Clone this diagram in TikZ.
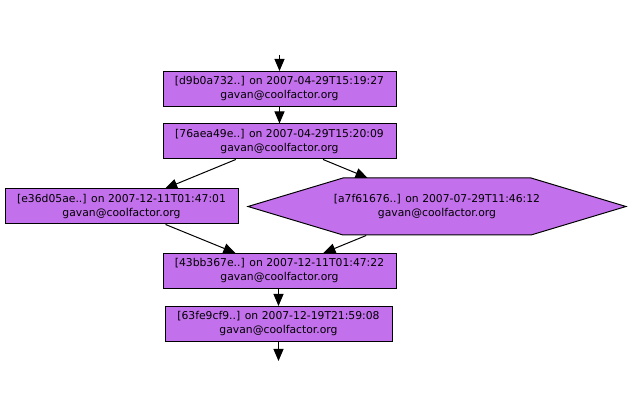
\documentclass[tikz,border=0pt]{standalone}
\usepackage{fontspec}
\setmainfont{DejaVu Sans}
\usetikzlibrary{arrows.meta,shapes.symbols}
\definecolor{commit}{RGB}{195,112,236}
\tikzset{
  box/.style={draw=black, line width=1pt, fill=commit, rectangle, minimum width=233pt, minimum height=35pt, inner sep=0pt, align=center, font=\fontsize{10.8}{14}\selectfont},
  hexa/.style={draw=black, line width=1pt, fill=commit, signal, signal to=east and west, signal pointer angle=33.4, minimum width=378pt, minimum height=57pt, inner sep=0pt, font=\fontsize{10.8}{14}\selectfont},
  edge/.style={draw=black, line width=1pt, -{Triangle[length=12pt,width=10pt]}}
}
\begin{document}
\begin{tikzpicture}[x=1pt,y=-1pt]
\useasboundingbox (0,0) rectangle (630,414);
\node[box] (n1) at (279.5,89) {[d9b0a732..] on 2007-04-29T15:19:27\\gavan@coolfactor.org};
\node[box] (n2) at (279.5,141.5) {[76aea49e..] on 2007-04-29T15:20:09\\gavan@coolfactor.org};
\node[box] (n3) at (121.5,206.5) {[e36d05ae..] on 2007-12-11T01:47:01\\gavan@coolfactor.org};
\node[hexa] (n4) at (437,206.5) {\makebox[180pt]{\begin{tabular}{@{}c@{}}[a7f61676..] on 2007-07-29T11:46:12\\gavan@coolfactor.org\end{tabular}}};
\node[box] (n5) at (279.5,271) {[43bb367e..] on 2007-12-11T01:47:22\\gavan@coolfactor.org};
\node[box, minimum width=227pt] (n6) at (278.5,324) {[63fe9cf9..] on 2007-12-19T21:59:08\\gavan@coolfactor.org};
\coordinate (top) at (279.5,55);
\coordinate (bot) at (278.5,361);
\draw[edge] (top) -- (n1);
\draw[edge] (n1) -- (n2);
\draw[edge] (n2) -- (n3);
\draw[edge] (n2) -- (n4);
\draw[edge] (n3) -- (n5);
\draw[edge] (n4) -- (n5);
\draw[edge] (n5.south -| n6.north) -- (n6);
\draw[edge] (n6) -- (bot);
\end{tikzpicture}
\end{document}
